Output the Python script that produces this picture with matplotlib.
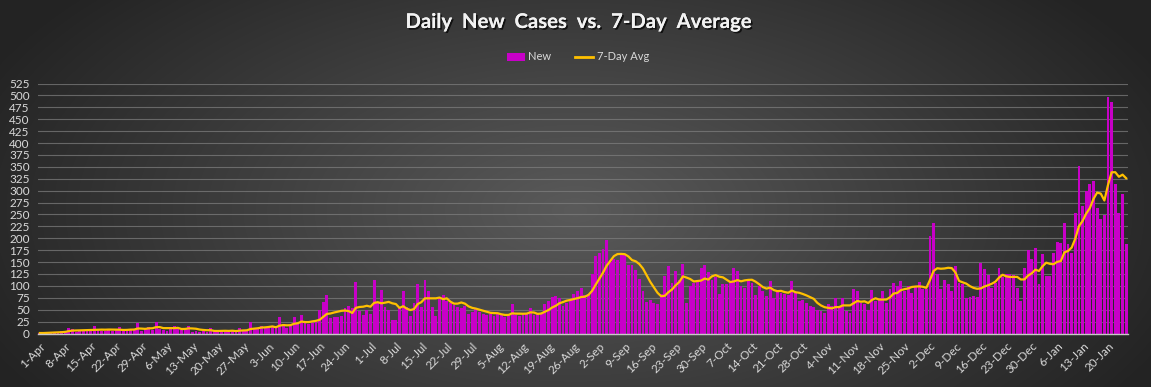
import numpy as np
import pandas as pd
import matplotlib
matplotlib.use("Agg")
import matplotlib.pyplot as plt
import matplotlib.patheffects as pe
from matplotlib.patches import Patch
from matplotlib.lines import Line2D

# ---------------- data ----------------
start_date = "2020-04-01"
new_cases = [
    1, 1, 2, 3, 4, 3, 5,
    6, 12, 10, 4, 6, 5, 7,
    8, 15, 10, 6, 5, 7, 6,
    8, 14, 6, 7, 9, 8, 22,
    6, 10, 14, 8, 25, 9, 7,
    6, 9, 15, 12, 8, 10, 16,
    4, 5, 3, 6, 4, 11, 5,
    3, 6, 5, 4, 7, 5, 12,
    6, 8, 24, 10, 12, 16, 14,
    12, 16, 12, 34, 20, 12, 16,
    34, 22, 38, 26, 20, 22, 24,
    49, 66, 81, 32, 35, 34, 36,
    54, 57, 54, 108, 47, 38, 50,
    40, 113, 64, 92, 56, 50, 29,
    29, 56, 89, 56, 36, 64, 103,
    56, 113, 89, 56, 36, 75, 80,
    68, 64, 60, 56, 53, 58, 40,
    46, 53, 45, 40, 38, 42, 36,
    44, 38, 35, 40, 61, 38, 36,
    42, 40, 54, 38, 40, 44, 61,
    68, 77, 79, 75, 58, 65, 71,
    82, 89, 96, 80, 84, 124, 163,
    170, 177, 197, 150, 156, 155, 165,
    166, 144, 143, 133, 115, 89, 66,
    70, 64, 62, 82, 121, 142, 106,
    131, 113, 145, 64, 100, 106, 112,
    138, 143, 130, 112, 118, 82, 103,
    104, 108, 138, 132, 100, 96, 110,
    106, 80, 100, 90, 78, 110, 75,
    89, 85, 82, 80, 110, 85, 68,
    71, 64, 57, 55, 50, 47, 43,
    61, 57, 75, 55, 75, 47, 43,
    94, 89, 64, 61, 50, 92, 68,
    75, 89, 64, 94, 106, 100, 110,
    89, 99, 86, 100, 109, 94, 94,
    205, 232, 125, 93, 113, 104, 89,
    142, 107, 104, 74, 76, 78, 76,
    148, 135, 122, 96, 107, 137, 118,
    125, 126, 123, 96, 69, 138, 175,
    157, 180, 104, 167, 120, 121, 169,
    192, 191, 233, 187, 170, 254, 351,
    268, 300, 314, 321, 263, 240, 249,
    497, 486, 315, 254, 294, 187,
]
series_names = ["New", "7-Day Avg"]
title_text = "Daily  New  Cases  vs.  7-Day  Average"
y_ticks = list(range(0, 526, 25))

dates = pd.date_range(start_date, periods=len(new_cases), freq="D")
new = pd.Series(new_cases, index=dates, dtype=float)
avg7 = new.rolling(7, min_periods=1).mean()
tick_idx = list(range(0, len(new_cases), 7))
tick_labels = [f"{dates[i].day}-{dates[i].strftime('%b')}" for i in tick_idx]

# ---------------- figure ----------------
W, H = 1151, 387
fig = plt.figure(figsize=(W / 100, H / 100), dpi=100)

# radial gradient background
bg = fig.add_axes([0, 0, 1, 1], zorder=-10)
yy, xx = np.mgrid[0:H, 0:W]
r = np.sqrt(((xx - 575) / 640.0) ** 2 + ((yy - 210) / 330.0) ** 2)
r = np.clip(r, 0, 1)
c_in = np.array([90, 90, 90]) / 255.0
c_out = np.array([36, 36, 36]) / 255.0
img = c_in[None, None, :] + (c_out - c_in)[None, None, :] * r[..., None]
bg.imshow(img, aspect="auto", extent=[0, 1, 0, 1], origin="upper")
bg.axis("off")

font = "Lato"
txt_col = "#d9d9d9"

ax = fig.add_axes([38 / W, 1 - 333.5 / H, (1128 - 38) / W, (333.5 - 83.5) / H])
ax.set_facecolor("none")
x = np.arange(len(new_cases))
ax.bar(x, new.values, width=0.78, color="#C800C8", zorder=3, linewidth=0)
ax.plot(x, avg7.values, color="#FFC000", lw=1.6, zorder=4, solid_joinstyle="round")

ax.set_xlim(-0.5, len(new_cases) - 0.5)
ax.set_ylim(0, 525)
ax.set_yticks(y_ticks)
ax.set_yticklabels([str(v) for v in y_ticks], fontfamily=font, fontsize=8.5, color=txt_col)
ax.set_xticks(tick_idx)
ax.set_xticklabels(tick_labels, rotation=45, ha="right", rotation_mode="anchor",
                   fontfamily=font, fontsize=8.5, color=txt_col)
ax.tick_params(axis="both", length=0)
ax.tick_params(axis="y", pad=6)
ax.tick_params(axis="x", pad=5)
ax.yaxis.grid(True, color="#808080", lw=0.8, alpha=0.7, zorder=0)
ax.set_axisbelow(True)
for s in ["top", "right", "left"]:
    ax.spines[s].set_visible(False)
ax.spines["bottom"].set_color("#c8c8c8")
ax.spines["bottom"].set_linewidth(1.0)
ax.spines["bottom"].set_zorder(5)

# title
fig.text(0.5025, 1 - 22 / H, title_text, ha="center", va="center",
         fontfamily=font, fontweight="bold", fontsize=14.6, color="#f2f2f2",
         path_effects=[pe.withSimplePatchShadow(offset=(1.2, -1.2), shadow_rgbFace="black", alpha=0.7),
                       pe.Normal()])

# legend
handles = [Patch(facecolor="#C800C8", edgecolor="none"),
           Line2D([0], [0], color="#FFC000", lw=2.0)]
leg = fig.legend(handles, series_names, loc="center", bbox_to_anchor=(0.502, 1 - 57 / H),
                 ncol=2, frameon=False, handlelength=1.6, handleheight=0.7,
                 columnspacing=2.2, handletextpad=0.3,
                 prop={"family": font, "size": 8})
for t in leg.get_texts():
    t.set_color(txt_col)

fig.savefig("out.png", dpi=100)
